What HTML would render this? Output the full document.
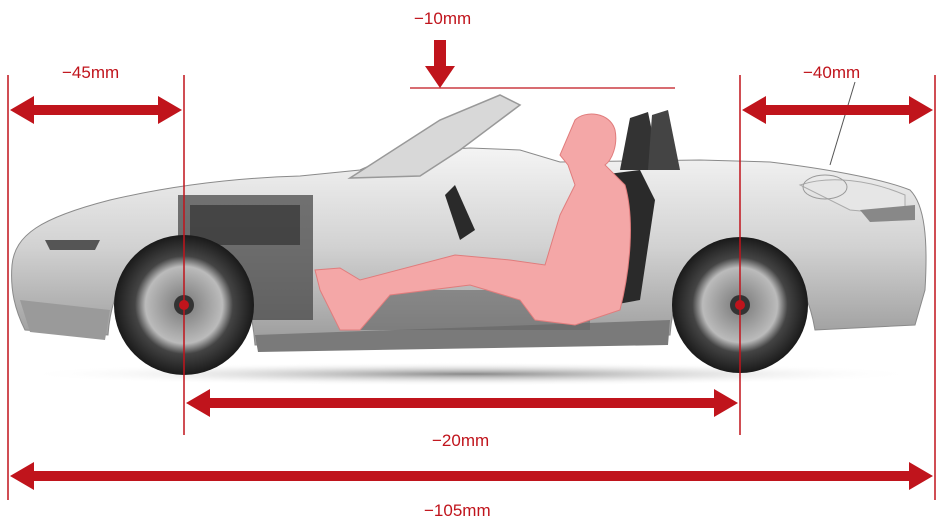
<!DOCTYPE html>
<html><head><meta charset="utf-8"><style>
html,body{margin:0;padding:0;background:#fff;}
svg{display:block}
text{font-family:"Liberation Sans",sans-serif;fill:#c0141c;font-size:17px}
</style></head><body>
<svg width="950" height="525" viewBox="0 0 950 525" xmlns="http://www.w3.org/2000/svg">
<defs>
<linearGradient id="body" x1="0" y1="0" x2="0" y2="1">
<stop offset="0" stop-color="#f4f4f4"/><stop offset="0.5" stop-color="#d2d2d2"/><stop offset="1" stop-color="#9a9a9a"/>
</linearGradient>
<radialGradient id="wheel"><stop offset="0" stop-color="#777"/><stop offset="0.55" stop-color="#bbb"/><stop offset="0.7" stop-color="#444"/><stop offset="1" stop-color="#1a1a1a"/></radialGradient>
<radialGradient id="shadow"><stop offset="0" stop-color="#888"/><stop offset="1" stop-color="#fff" stop-opacity="0"/></radialGradient>
</defs>
<ellipse cx="470" cy="374" rx="450" ry="12" fill="url(#shadow)"/>
<!-- car body -->
<path d="M12,265 C15,235 40,218 110,200 C170,186 230,178 300,176 L360,170 C380,160 420,150 470,148 L520,150 L560,162 L700,160 L770,162 C820,168 880,178 910,190 C925,205 928,240 925,290 L915,325 L815,330 C805,270 770,245 740,245 C700,245 675,275 670,335 L255,345 C250,280 225,245 184,245 C140,245 112,280 108,335 L25,330 C15,310 10,290 12,265 Z" fill="url(#body)" stroke="#8a8a8a" stroke-width="1"/>
<path d="M20,300 L110,310 L105,340 L30,332 Z" fill="#9a9a9a"/>
<path d="M255,335 L670,320 L668,345 L258,352 Z" fill="#7a7a7a"/>
<!-- windshield / roll bar -->
<path d="M350,178 L440,120 L500,95 L520,105 L460,150 L420,176 Z" fill="#d8d8d8" stroke="#999" stroke-width="1.5"/>
<path d="M620,170 L630,118 L648,112 L660,170 Z" fill="#333"/>
<path d="M648,170 L652,115 L668,110 L680,170 Z" fill="#444"/>
<path d="M800,185 C830,175 870,180 905,195 L905,215 L850,210 Z" fill="#e6e6e6" stroke="#aaa"/>
<ellipse cx="825" cy="187" rx="22" ry="12" fill="none" stroke="#999"/>
<path d="M860,210 L915,205 L915,220 L870,222 Z" fill="#888"/>
<path d="M45,240 L100,240 L95,250 L50,250 Z" fill="#555"/>
<!-- engine -->
<rect x="178" y="195" width="135" height="125" fill="#4a4a4a" opacity="0.75"/>
<rect x="190" y="205" width="110" height="40" fill="#2a2a2a" opacity="0.6"/>
<rect x="360" y="290" width="230" height="40" fill="#666" opacity="0.6"/>
<!-- seat -->
<path d="M600,175 L640,170 L655,200 L640,300 L585,310 Z" fill="#2a2a2a"/>
<!-- person -->
<path d="M575,120 C585,110 610,112 615,130 C618,145 612,160 605,165 L625,185 C635,220 630,270 620,310 L575,325 L535,320 L520,300 L470,285 L390,295 L360,330 L340,330 L320,290 L315,270 L340,268 L360,280 L455,255 L510,260 L545,265 L560,215 L575,185 L568,165 L560,155 Z" fill="#f4a7a7" stroke="#e07c7c" stroke-width="1"/>
<path d="M455,185 L475,230 L460,240 L445,195 Z" fill="#2a2a2a"/>
<!-- wheels -->
<circle cx="184" cy="305" r="70" fill="url(#wheel)"/>
<circle cx="184" cy="305" r="10" fill="#333"/><circle cx="184" cy="305" r="5" fill="#c0141c"/>
<circle cx="740" cy="305" r="68" fill="url(#wheel)"/>
<circle cx="740" cy="305" r="10" fill="#333"/><circle cx="740" cy="305" r="5" fill="#c0141c"/>
<!-- vertical lines -->
<g stroke="#c0141c" stroke-width="1.5">
<line x1="8" y1="75" x2="8" y2="500"/>
<line x1="184" y1="75" x2="184" y2="435"/>
<line x1="740" y1="75" x2="740" y2="435"/>
<line x1="935" y1="75" x2="935" y2="500"/>
<line x1="410" y1="88" x2="675" y2="88" stroke-width="1.2"/>
</g>
<line x1="830" y1="165" x2="855" y2="82" stroke="#555" stroke-width="1"/>
<!-- arrows -->
<g fill="#c0141c">
<path d="M10,110 L34,96 L34,105 L158,105 L158,96 L182,110 L158,124 L158,115 L34,115 L34,124 Z"/>
<path d="M742,110 L766,96 L766,105 L909,105 L909,96 L933,110 L909,124 L909,115 L766,115 L766,124 Z"/>
<path d="M186,403 L210,389 L210,398 L714,398 L714,389 L738,403 L714,417 L714,408 L210,408 L210,417 Z"/>
<path d="M10,476 L34,462 L34,471 L909,471 L909,462 L933,476 L909,490 L909,481 L34,481 L34,490 Z"/>
<path d="M434,40 L446,40 L446,66 L455,66 L440,88 L425,66 L434,66 Z"/>
</g>
<text x="414" y="24">−10mm</text>
<text x="62" y="78">−45mm</text>
<text x="803" y="78">−40mm</text>
<text x="432" y="446">−20mm</text>
<text x="424" y="516">−105mm</text>
</svg>
</body></html>
